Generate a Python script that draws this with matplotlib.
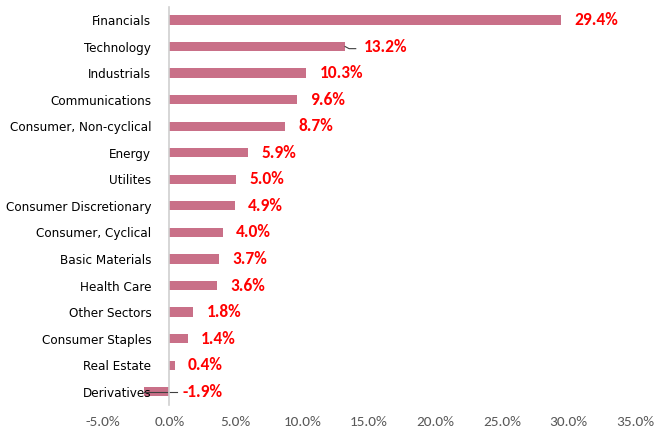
import matplotlib.pyplot as plt

sectors = ["Financials", "Technology", "Industrials", "Communications",
           "Consumer, Non-cyclical", "Energy", "Utilites", "Consumer Discretionary",
           "Consumer, Cyclical", "Basic Materials", "Health Care", "Other Sectors",
           "Consumer Staples", "Real Estate", "Derivatives"]
weights = [29.4, 13.2, 10.3, 9.6, 8.7, 5.9, 5.0, 4.9, 4.0, 3.7, 3.6, 1.8, 1.4, 0.4, -1.9]
xticks = [-5, 0, 5, 10, 15, 20, 25, 30, 35]

num_font = ["Carlito", "DejaVu Sans"]

fig = plt.figure(figsize=(6.59, 4.32), dpi=100)
ax = fig.add_axes([0.156, 0.0625, 0.808, 0.922])

y = list(range(len(sectors)))
ax.barh(y, weights, height=0.35, color="#C97088")
ax.set_ylim(len(sectors) - 0.5, -0.5)
ax.set_xlim(-5, 35)

for yi, w in zip(y, weights):
    xl = max(w, 0) + (1.4 if yi == 1 else 1.0)
    ax.text(xl, yi, f"{w:.1f}%", color="red", fontsize=12.5, fontweight="bold",
            va="center", ha="left", family=num_font)

# leader lines
ax.plot([13.2, 13.5, 14.0], [1, 1.08, 1.08], color="#404040", lw=0.8)
ax.plot([-1.9, 0.6], [14, 14], color="#404040", lw=0.8)

for s in ["top", "right", "bottom"]:
    ax.spines[s].set_visible(False)
ax.spines["left"].set_position(("data", 0))
ax.spines["left"].set_color("#D0D0D0")
ax.spines["left"].set_linewidth(1.2)

ax.set_yticks(y)
ax.set_yticklabels(sectors, fontsize=9.6, color="black", family="DejaVu Sans",
                   fontstretch="condensed")
ax.set_xticks(xticks)
ax.set_xticklabels([f"{t:.1f}%" for t in xticks], fontsize=11, color="#595959",
                   family=num_font)
ax.tick_params(length=0, pad=8)
ax.tick_params(axis="y", pad=13)

fig.savefig("out.png", dpi=100)
